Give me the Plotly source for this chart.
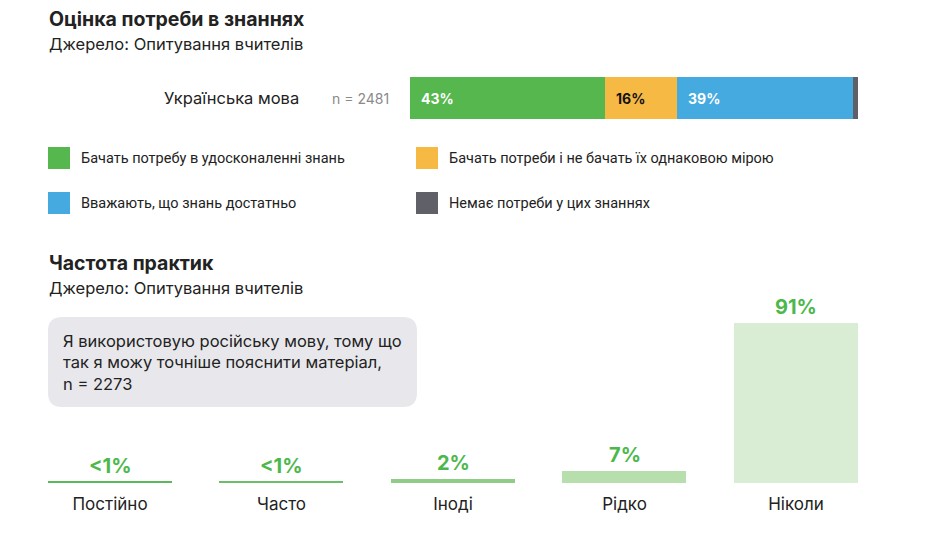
import plotly.graph_objects as go

OFF = 8
W, H = 920, 522
def px(x): return (x - OFF) / W
def py(y): return 1 - (y - OFF) / H

FONT = "Inter, Roboto, sans-serif"
DARK = "#222222"

# ---- data: knowledge needs ----
need_category = "Українська мова"
need_n = "n = 2481"
need_labels = ["Бачать потребу в удосконаленні знань",
               "Бачать потреби і не бачать їх однаковою мірою",
               "Вважають, що знань достатньо",
               "Немає потреби у цих знаннях"]
need_values = [43, 16, 39, 1]
need_text = ["43%", "16%", "39%", ""]
need_colors = ["#55b74e", "#f6b944", "#44aae0", "#5f6068"]
need_textcolors = ["white", "#111111", "white", "white"]

# ---- data: practice frequency ----
freq_categories = ["Постійно", "Часто", "Іноді", "Рідко", "Ніколи"]
freq_values = [0.8, 0.8, 2, 7, 91]
freq_labels = ["<1%", "<1%", "2%", "7%", "91%"]
freq_colors = ["#5cb85c", "#6cbf68", "#8fcd87", "#b7dfae", "#d9edd4"]

fig = go.Figure()

# top stacked bar
for v, c, name in zip(need_values, need_colors, need_labels):
    fig.add_trace(go.Bar(x=[v], y=[need_category], orientation="h",
                         marker=dict(color=c, line=dict(width=0)),
                         name=name, showlegend=False, hoverinfo="skip",
                         xaxis="x", yaxis="y"))

# bottom bars
fig.add_trace(go.Bar(x=freq_categories, y=freq_values,
                     marker=dict(color=freq_colors, line=dict(width=0)),
                     width=0.723, showlegend=False, hoverinfo="skip",
                     xaxis="x2", yaxis="y2"))

ann = []
# segment labels
start = 0
for v, t, tc in zip(need_values, need_text, need_textcolors):
    if t:
        ann.append(dict(x=start, y=0, xref="x", yref="y", text=f"<b>{t}</b>",
                        showarrow=False, xanchor="left", xshift=9,
                        font=dict(family=FONT, size=14, color=tc)))
    start += v

ann.append(dict(x=px(301), y=py(98), xref="paper", yref="paper", text=need_category,
                showarrow=False, xanchor="right", yanchor="middle",
                font=dict(family=FONT, size=16.5, color=DARK)))
ann.append(dict(x=px(330), y=py(98), xref="paper", yref="paper", text=need_n,
                showarrow=False, xanchor="left", yanchor="middle",
                font=dict(family=FONT, size=14, color="#8a8a8a")))

# titles
for txt, y, bold, size in [("Оцінка потреби в знаннях", 19, True, 19.5),
                           ("Джерело: Опитування вчителів", 44, False, 16.5),
                           ("Частота практик", 263, True, 19.5),
                           ("Джерело: Опитування вчителів", 288, False, 16.5)]:
    ann.append(dict(x=px(47), y=py(y), xref="paper", yref="paper",
                    text=f"<b>{txt}</b>" if bold else txt, showarrow=False,
                    xanchor="left", yanchor="middle",
                    font=dict(family=FONT, size=size, color=DARK)))

# legend
shapes = []
leg_pos = [(48, 158), (416, 158), (48, 203), (416, 203)]
for (lx, ly), c, name in zip(leg_pos, need_colors, need_labels):
    shapes.append(dict(type="rect", xref="paper", yref="paper",
                       x0=px(lx), x1=px(lx + 22), y0=py(ly - 11), y1=py(ly + 11),
                       fillcolor=c, line=dict(width=0)))
    ann.append(dict(x=px(lx + 31), y=py(ly), xref="paper", yref="paper", text=name,
                    showarrow=False, xanchor="left", yanchor="middle",
                    font=dict(family="Roboto, sans-serif", size=14.5, color=DARK)))

# rounded grey box
x0, x1, y0, y1, r = 48, 417, 317, 407, 14
def P(x, y): return f"{px(x)},{py(y)}"
path = (f"M {P(x0 + r, y0)} L {P(x1 - r, y0)} Q {P(x1, y0)} {P(x1, y0 + r)} "
        f"L {P(x1, y1 - r)} Q {P(x1, y1)} {P(x1 - r, y1)} "
        f"L {P(x0 + r, y1)} Q {P(x0, y1)} {P(x0, y1 - r)} "
        f"L {P(x0, y0 + r)} Q {P(x0, y0)} {P(x0 + r, y0)} Z")
shapes.append(dict(type="path", xref="paper", yref="paper", path=path,
                   fillcolor="#e8e8ec", line=dict(width=0), layer="below"))
ann.append(dict(x=px(61), y=py(329), xref="paper", yref="paper",
                text="Я використовую російську мову, тому що<br>так я можу точніше пояснити матеріал,<br>n = 2273",
                showarrow=False, xanchor="left", yanchor="top", align="left",
                font=dict(family=FONT, size=16.5, color=DARK)))

# value labels for bottom bars
for cat, v, lab in zip(freq_categories, freq_values, freq_labels):
    ann.append(dict(x=cat, y=v, xref="x2", yref="y2", text=f"<b>{lab}</b>",
                    showarrow=False, xanchor="center", yanchor="bottom", yshift=2,
                    font=dict(family=FONT, size=20, color="#4cb84c")))

fig.update_layout(
    width=W, height=H, margin=dict(l=0, r=0, t=0, b=0),
    paper_bgcolor="white", plot_bgcolor="white",
    barmode="stack", bargap=0,
    font=dict(family=FONT, color=DARK),
    xaxis=dict(domain=[px(410), px(858)], range=[0, sum(need_values)],
               visible=False, fixedrange=True),
    yaxis=dict(domain=[py(119), py(77)], range=[-0.5, 0.5],
               visible=False, fixedrange=True),
    xaxis2=dict(domain=[px(24.25), px(881.75)], range=[-0.5, 4.5], anchor="y2",
                showgrid=False, zeroline=False, showline=False, ticks="",
                ticklabelstandoff=9,
                tickfont=dict(family=FONT, size=17, color=DARK), fixedrange=True),
    yaxis2=dict(domain=[py(483), py(307)], range=[0, 100], anchor="x2",
                visible=False, fixedrange=True),
    annotations=ann, shapes=shapes,
)

fig.write_html("out.html")
